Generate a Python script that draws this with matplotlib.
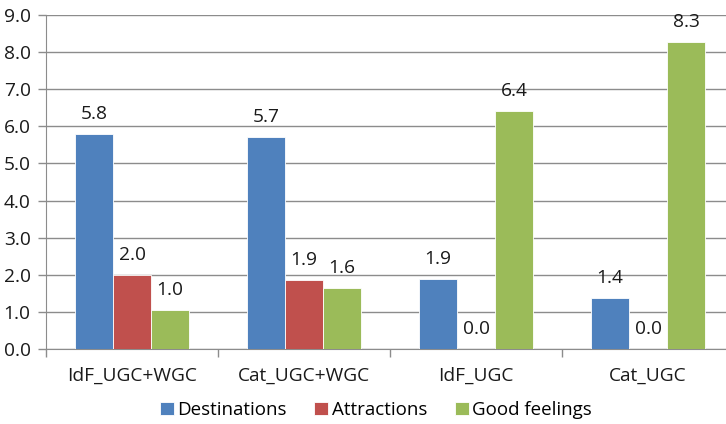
import matplotlib
matplotlib.use("Agg")
import matplotlib.pyplot as plt
import numpy as np

categories = ["IdF_UGC+WGC", "Cat_UGC+WGC", "IdF_UGC", "Cat_UGC"]
series_names = ["Destinations", "Attractions", "Good feelings"]
destinations = [5.80, 5.71, 1.89, 1.37]
attractions = [2.00, 1.86, 0.0, 0.0]
good_feelings = [1.04, 1.64, 6.41, 8.28]
colors = ["#4F81BD", "#C0504D", "#9BBB59"]
y_ticks = [0.0, 1.0, 2.0, 3.0, 4.0, 5.0, 6.0, 7.0, 8.0, 9.0]

plt.rcParams["font.family"] = ["Open Sans", "DejaVu Sans"]
FS = 13.8
TXT = "#1a1a1a"
GRID = "#8c8c8c"

fig = plt.figure(figsize=(7.26, 4.24), dpi=100)
ax = fig.add_axes([46 / 726, 75 / 424, 688 / 726, 334 / 424])

x = np.arange(len(categories))
width = 0.221
all_series = [destinations, attractions, good_feelings]
for i, (vals, name, c) in enumerate(zip(all_series, series_names, colors)):
    pos = x + (i - 1) * width
    ax.bar(pos, vals, width, color=c, label=name, zorder=3,
           edgecolor="white", linewidth=0.6)
    for xp, v in zip(pos, vals):
        ax.annotate(f"{v:.1f}", (xp, v), xytext=(0, 8), textcoords="offset points",
                    ha="center", va="bottom", fontsize=FS, color=TXT)

ax.set_xlim(-0.5, len(categories) - 0.5)
ax.set_ylim(0, 9)
ax.set_yticks(y_ticks)
ax.set_yticklabels([f"{t:.1f}" for t in y_ticks], fontsize=FS, color=TXT)
ax.yaxis.grid(True, color=GRID, linewidth=1.0, zorder=0)
ax.set_axisbelow(True)

ax.set_xticks(np.arange(len(categories) + 1) - 0.5)
ax.set_xticklabels([])
ax.set_xticks(x, minor=True)
ax.set_xticklabels(categories, minor=True, fontsize=FS, color=TXT)
ax.tick_params(axis="x", which="major", length=6, color=GRID, width=1)
ax.tick_params(axis="x", which="minor", length=0, pad=13)
ax.tick_params(axis="y", length=6, color=GRID, width=1, pad=5)

for s in ["top", "right"]:
    ax.spines[s].set_visible(False)
ax.spines["left"].set_color(GRID)
ax.spines["bottom"].set_color(GRID)

fig.legend(loc="center", bbox_to_anchor=(376 / 726, 1 - 410 / 424), ncol=3,
           frameon=False, fontsize=13.5, handlelength=0.75, handleheight=0.75,
           handletextpad=0.2, columnspacing=1.45)

fig.savefig("out.png", dpi=100)
